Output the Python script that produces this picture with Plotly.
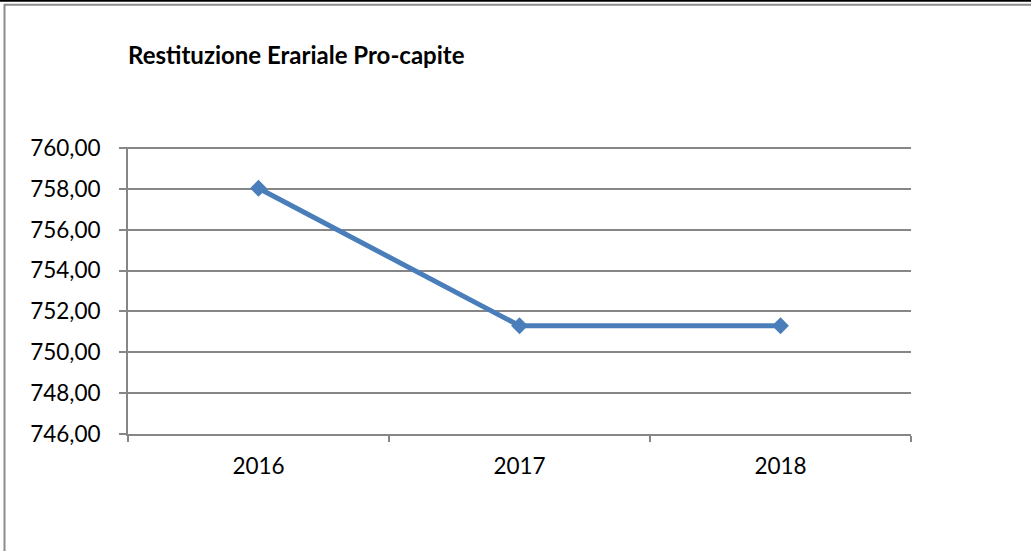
import plotly.graph_objects as go

years = ["2016", "2017", "2018"]
values = [758.03, 751.30, 751.30]
y_ticks = [746, 748, 750, 752, 754, 756, 758, 760]

W, H = 1031, 551
L, R, T, B = 128, 911, 147, 434

def px(x):
    return (x - L) / (R - L)

def py(y):
    return (B - y) / (B - T)

fig = go.Figure()
fig.add_trace(go.Scatter(
    x=years, y=values, mode="lines+markers",
    line=dict(color="#4a7ebb", width=5),
    marker=dict(symbol="diamond", size=13, color="#4a7ebb"),
    showlegend=False,
))

font = "Lato, 'Open Sans', sans-serif"
fig.update_layout(
    width=W, height=H,
    margin=dict(l=L, r=W - R, t=T, b=H - B),
    paper_bgcolor="white", plot_bgcolor="white",
    separators=",.",
    font=dict(family=font, size=22.5, color="black"),
    title=dict(text="<b>Restituzione Erariale Pro-capite</b>",
               x=px(128), xref="paper", xanchor="left",
               y=1 - 56 / H, yref="container", yanchor="middle",
               font=dict(family=font, size=24, color="black")),
    xaxis=dict(type="category", range=[-0.5, 2.5],
               showline=True, linecolor="#868686", linewidth=2,
               ticks="outside", tickson="boundaries", ticklen=6,
               tickcolor="#868686", tickwidth=2,
               showgrid=False, tickfont=dict(size=22.5), ticklabelstandoff=11),
    yaxis=dict(range=[746, 760.05], tickvals=y_ticks, tickformat=".2f",
               showline=True, linecolor="#868686", linewidth=2,
               ticks="outside", ticklen=7, tickcolor="#868686", tickwidth=2,
               showgrid=True, gridcolor="#868686", gridwidth=1.5,
               zeroline=False, tickfont=dict(size=22.5), ticklabelstandoff=14),
    shapes=[
        dict(type="line", xref="paper", yref="paper",
             x0=px(0), x1=px(W), y0=py(0.7), y1=py(0.7),
             line=dict(color="black", width=2)),
        dict(type="line", xref="paper", yref="paper",
             x0=px(4), x1=px(W), y0=py(4.8), y1=py(4.8),
             line=dict(color="#8c8c8c", width=2)),
        dict(type="line", xref="paper", yref="paper",
             x0=px(4.5), x1=px(4.5), y0=py(4), y1=py(H),
             line=dict(color="#8c8c8c", width=2)),
    ],
)

fig.write_html("out.html", config={"displayModeBar": False},
               post_script="document.body.style.margin='0';document.body.style.overflow='hidden';")
